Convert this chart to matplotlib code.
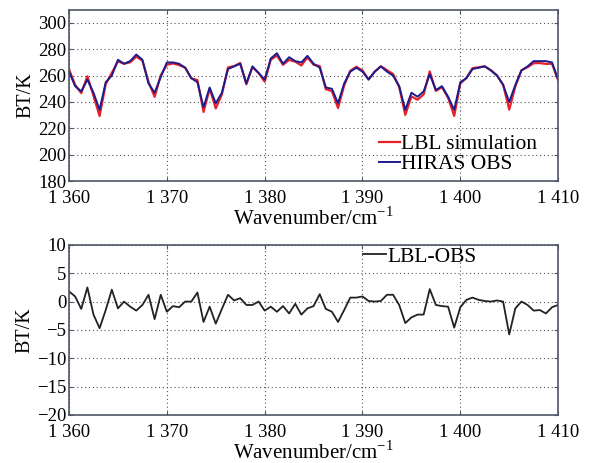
import numpy as np
import matplotlib
matplotlib.use("Agg")
import matplotlib.pyplot as plt

plt.rcParams['font.family'] = ['Liberation Serif', 'DejaVu Serif']
plt.rcParams['mathtext.fontset'] = 'custom'
plt.rcParams['mathtext.rm'] = 'Liberation Serif'

# spectral grid (HIRAS 0.625 cm-1 sampling)
wavenumber = np.arange(1360, 1410.001, 0.625)

hiras_obs = [263, 252, 248, 257, 247, 234, 255, 260, 272, 269,
             271, 276, 272, 254, 247, 259, 270, 270, 269, 266,
             258, 255, 236, 251, 239, 247, 265, 267, 269, 254,
             267, 262, 257, 273, 277, 269, 274, 271, 270, 275,
             269, 266, 251, 250, 239, 254, 263, 266, 263, 257,
             263, 267, 263, 260, 252, 234, 247, 244, 248, 261,
             249, 252, 244, 234, 255, 258, 265, 266, 267, 264,
             260, 253, 240, 253, 264, 267, 271, 271, 271, 270,
             257]

lbl_sim = [264.8, 252.9, 246.7, 259.5, 244.7, 229.3, 253.5, 262.1, 270.8, 269.0,
           270.1, 274.4, 271.4, 255.2, 243.9, 260.2, 268.2, 269.2, 268.0, 266.0,
           258.0, 256.6, 232.4, 250.1, 235.1, 245.7, 266.2, 267.2, 269.6, 253.4,
           266.4, 262.0, 255.4, 272.1, 275.2, 268.2, 271.9, 270.6, 267.7, 273.8,
           268.2, 267.3, 249.7, 248.2, 235.4, 252.5, 263.7, 266.7, 263.9, 257.1,
           263.0, 267.1, 264.2, 261.2, 251.4, 230.2, 244.2, 241.7, 245.7, 263.2,
           248.4, 251.2, 243.1, 229.4, 254.0, 258.3, 265.7, 266.3, 267.1, 264.0,
           260.2, 253.0, 234.2, 251.8, 264.0, 266.4, 269.4, 269.5, 268.9, 269.0,
           256.4]

lbl_minus_obs = [1.8, 0.9, -1.3, 2.5, -2.3, -4.7, -1.5, 2.1, -1.2, 0.0,
                 -0.9, -1.6, -0.6, 1.2, -3.1, 1.2, -1.8, -0.8, -1.0, 0.0,
                 0.0, 1.6, -3.6, -0.9, -3.9, -1.3, 1.2, 0.2, 0.6, -0.6,
                 -0.6, 0.0, -1.6, -0.9, -1.8, -0.8, -2.1, -0.4, -2.3, -1.2,
                 -0.8, 1.3, -1.3, -1.8, -3.6, -1.5, 0.7, 0.7, 0.9, 0.1,
                 0.0, 0.1, 1.2, 1.2, -0.6, -3.8, -2.8, -2.3, -2.3, 2.2,
                 -0.6, -0.8, -0.9, -4.6, -1.0, 0.3, 0.7, 0.3, 0.1, 0.0,
                 0.2, 0.0, -5.8, -1.2, 0.0, -0.6, -1.6, -1.5, -2.1, -1.0,
                 -0.6]

xticks = [1360, 1370, 1380, 1390, 1400, 1410]
xticklabels = ['1 360', '1 370', '1 380', '1 390', '1 400', '1 410']
top_yticks = [180, 200, 220, 240, 260, 280, 300]
bot_yticks = [-20, -15, -10, -5, 0, 5, 10]

FS = 13.5
FS_LAB = 15
FS_LEG = 15.5
spine_col = '#4f5566'

fig = plt.figure(figsize=(5.90, 4.63), dpi=100)
ax1 = fig.add_axes([0.117, 0.609, 0.829, 0.370])
ax2 = fig.add_axes([0.117, 0.104, 0.829, 0.367])

def style(ax):
    ax.set_xlim(1360, 1410)
    ax.set_xticks(xticks)
    ax.set_xticklabels(xticklabels)
    ax.grid(True, linestyle=(0, (1, 2.5)), color='#555555', linewidth=0.8)
    ax.tick_params(direction='in', top=True, right=True, length=3,
                   labelsize=FS, color=spine_col)
    ax.tick_params(axis='x', pad=6.5)
    ax.tick_params(axis='y', pad=2)
    for s in ax.spines.values():
        s.set_color(spine_col)
        s.set_linewidth(1.2)
    ax.set_xlabel('Wavenumber/cm$^{-1}$', fontsize=FS_LAB, labelpad=0)
    ax.set_ylabel('BT/K', fontsize=14.5, labelpad=2)

ax1.plot(wavenumber, lbl_sim, color='#e8202a', lw=1.6, label='LBL simulation')
ax1.plot(wavenumber, hiras_obs, color='#1c1c8e', lw=1.4, label='HIRAS OBS')
ax1.set_ylim(180, 310)
ax1.set_yticks(top_yticks)
style(ax1)
ax1.legend(loc='lower right', frameon=False, fontsize=FS_LEG, handlelength=1.0,
           handletextpad=0.05, borderaxespad=0, borderpad=0, labelspacing=0.0,
           bbox_to_anchor=(0.957, 0.04))

ax2.plot(wavenumber, lbl_minus_obs, color='#222222', lw=1.3, label='LBL-OBS')
ax2.set_ylim(-20, 10)
ax2.set_yticks(bot_yticks)
style(ax2)
ax2.legend(loc='upper left', frameon=False, fontsize=FS_LEG, handlelength=1.05,
           handletextpad=0.05, borderaxespad=0, borderpad=0,
           bbox_to_anchor=(0.602, 0.99))

fig.savefig('out.png', dpi=100)
